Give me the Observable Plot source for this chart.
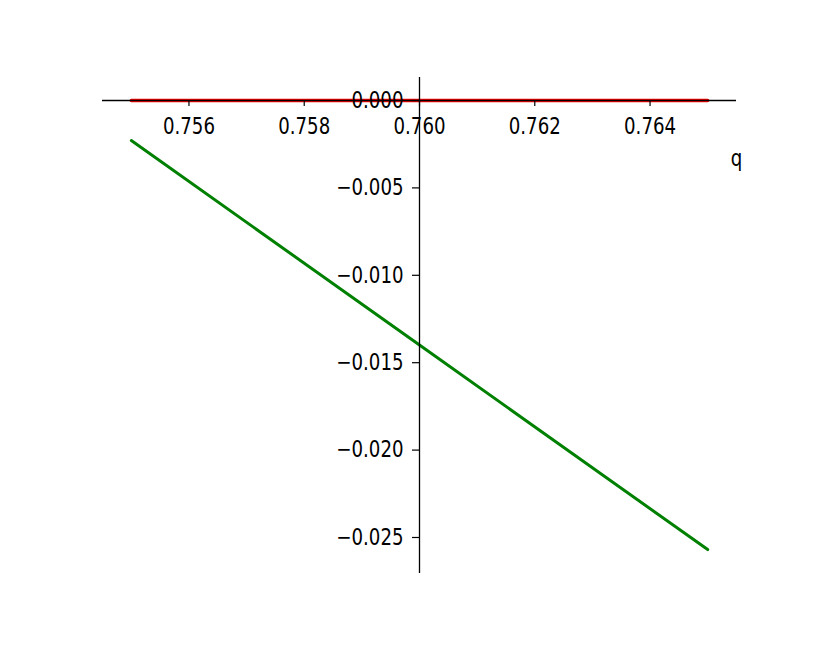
<!DOCTYPE html>
<html>
<head>
<meta charset="utf-8">
<script src="https://cdn.jsdelivr.net/npm/d3@7"></script>
<script src="https://cdn.jsdelivr.net/npm/@observablehq/plot@0.6"></script>
<style>
  html, body { margin: 0; padding: 0; background: #fff; }
  svg { font-family: "DejaVu Sans", sans-serif; }
</style>
</head>
<body>
<div id="chart"></div>
<script>
// Data
const qValues = [0.755, 0.760, 0.765];
const greenValues = [-0.00229, -0.01399, -0.02569];
const redValues = [0, 0, 0];
const xTicks = [0.756, 0.758, 0.760, 0.762, 0.764];
const yTicks = [0, -0.005, -0.010, -0.015, -0.020, -0.025];
const xLabel = "q";
const axisX0 = 0.760; // where the vertical spine crosses

const green = qValues.map((q, i) => ({q, v: greenValues[i]}));
const red = qValues.map((q, i) => ({q, v: redValues[i]}));
const fmt = d3.format(".3f");

const chart = Plot.plot({
  width: 817,
  height: 654,
  marginLeft: 102,
  marginRight: 81,
  marginTop: 77,
  marginBottom: 81,
  style: {fontSize: "23px", fontFamily: "DejaVu Sans, sans-serif", background: "white", color: "black"},
  x: {domain: [0.7545, 0.7655], axis: null},
  y: {domain: [-0.02706, 0.001316], axis: null},
  marks: [
    Plot.line(red, {x: "q", y: "v", stroke: "#ff0000", strokeWidth: 3.5}),
    Plot.line(green, {x: "q", y: "v", stroke: "#008000", strokeWidth: 3}),
    Plot.ruleY([0], {stroke: "black", strokeWidth: 1.3}),
    Plot.ruleX([axisX0], {stroke: "black", strokeWidth: 1.3}),
    Plot.ruleX(xTicks, {x: d => d, y1: 0, y2: 0, insetBottom: -6, stroke: "black", strokeWidth: 1.2}),
    Plot.ruleY(yTicks, {y: d => d, x1: axisX0, x2: axisX0, insetLeft: -7, stroke: "black", strokeWidth: 1.2}),
    Plot.text(xTicks, {x: d => d, y: 0, dy: 26, text: d => fmt(d), textAnchor: "middle", fill: "black"}),
    Plot.text(yTicks, {x: axisX0, y: d => d, dx: -16, text: d => fmt(d), textAnchor: "end", fill: "black"}),
    Plot.text([xLabel], {x: 0.7655, y: 0, dy: 58, text: d => d, textAnchor: "middle", fill: "black"})
  ]
});

// Narrow the glyphs horizontally, as in the reference
chart.querySelectorAll("text").forEach(t => {
  const tr = t.getAttribute("transform");
  if (tr) {
    t.setAttribute("transform", tr + " scale(0.79,1)");
  } else {
    const x = +(t.getAttribute("x") || 0), y = +(t.getAttribute("y") || 0);
    t.removeAttribute("x"); t.removeAttribute("y");
    t.setAttribute("transform", `translate(${x},${y}) scale(0.79,1)`);
  }
});

document.getElementById("chart").appendChild(chart);
</script>
</body>
</html>
